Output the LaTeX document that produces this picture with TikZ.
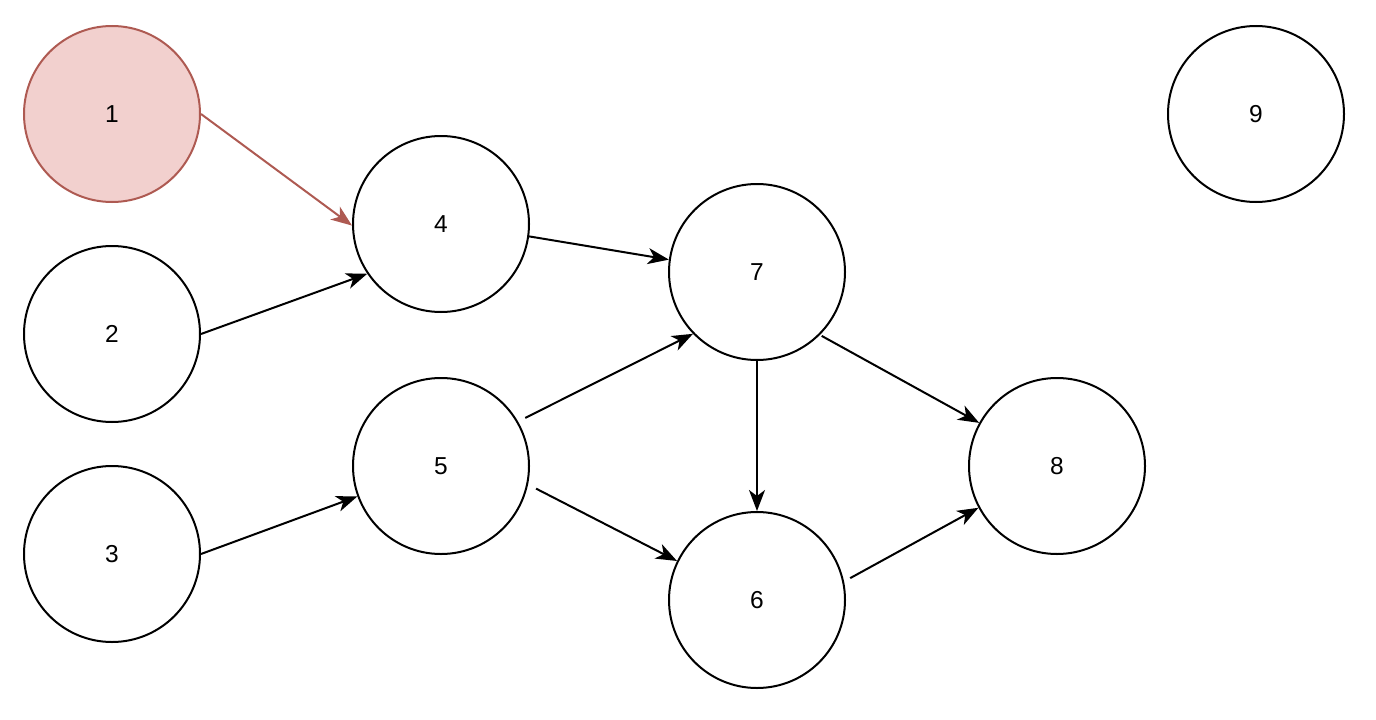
\documentclass[tikz,border=0pt]{standalone}
\usepackage{fontspec}
\setmainfont{Liberation Sans}
\usetikzlibrary{arrows.meta}
\definecolor{redfill}{HTML}{F2D0CE}
\definecolor{redline}{HTML}{AE5A52}
\tikzset{
  vert/.style={circle, draw=black, line width=2pt, minimum size=176pt, inner sep=0pt, font=\fontsize{24.5}{28}\selectfont},
  hot/.style={vert, fill=redfill, draw=redline},
  edge/.style={line width=2pt, -{Stealth[length=21pt,width=16pt,inset=6pt]}},
  hotedge/.style={edge, draw=redline, color=redline},
}
\begin{document}
\begin{tikzpicture}[x=1pt,y=-1pt]
\useasboundingbox (0,0) rectangle (1376,720);
\node[hot]  (n1) at (112,114) {1};
\node[vert] (n2) at (112,334) {2};
\node[vert] (n3) at (112,554) {3};
\node[vert] (n4) at (441,224) {4};
\node[vert] (n5) at (441,466) {5};
\node[vert] (n6) at (757,600) {6};
\node[vert] (n7) at (757,272) {7};
\node[vert] (n8) at (1057,466) {8};
\node[vert] (n9) at (1256,114) {9};

\draw[hotedge] (n1.east) -- (n4.181);
\draw[edge] (n2.east) -- (n4.214);
\draw[edge] (n3.east) -- (n5.200);
\draw[edge] (n4.-8) -- (n7.172);
\draw[edge, shorten <=8pt] (n5.30) -- (n7.224);
\draw[edge, shorten <=9pt] (n5.-12) -- (n6.154);
\draw[edge] (n7.south) -- (n6.north);
\draw[edge, shorten <=2pt] (n7.-45) -- (n8.151);
\draw[edge, shorten <=7pt] (n6.12) -- (n8.208);
\end{tikzpicture}
\end{document}
